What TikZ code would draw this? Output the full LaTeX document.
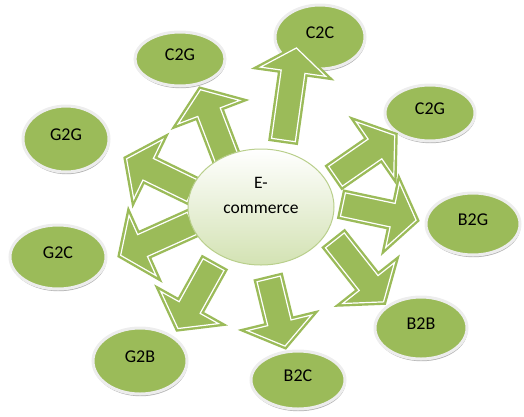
\documentclass[tikz,border=0pt]{standalone}
\usepackage{fontspec}
\setmainfont{Carlito}
\usetikzlibrary{shapes.geometric,shadows,calc}

\definecolor{leaf}{HTML}{9BBB59}
\definecolor{rim}{HTML}{EDEDED}
\definecolor{hubbot}{HTML}{D3E2B3}
\definecolor{hubline}{HTML}{B9CF8C}

\tikzset{
  model/.style={ellipse, fill=leaf, draw=rim, line width=3pt, inner sep=0pt,
    font=\fontsize{18}{20}\selectfont, text depth=8pt,
    drop shadow={shadow xshift=0.6pt, shadow yshift=-2.2pt, opacity=0.3, fill=black}},
  hub/.style={ellipse, top color=white, bottom color=hubbot, draw=hubline,
    line width=1pt, inner sep=0pt, minimum width=146pt, minimum height=116pt},
  flow/.style={fill=leaf, draw=leaf, double=white, line width=2.4pt,
    double distance=1.2pt}
}

\begin{document}
\begin{tikzpicture}[x=1pt, y=-1pt]
  \useasboundingbox (0,0) rectangle (524,416);

  % trading models round the hub
  \node[model, minimum width=90pt, minimum height=54pt] (c2gl) at (180,59) {C2G};
  \node[model, minimum width=90pt, minimum height=64pt] (c2c) at (320,37) {C2C};
  \node[model, minimum width=90pt, minimum height=56pt] (c2gr) at (430,113) {C2G};
  \node[model, minimum width=86pt, minimum height=66pt] (g2g) at (66,139) {G2G};
  \node[model, minimum width=96pt, minimum height=64pt] (g2c) at (58,257) {G2C};
  \node[model, minimum width=94pt, minimum height=62pt] (b2g) at (473,224) {B2G};
  \node[model, minimum width=92pt, minimum height=62pt] (b2b) at (421,328) {B2B};
  \node[model, minimum width=94pt, minimum height=66pt] (g2b) at (140,361) {G2B};
  \node[model, minimum width=94pt, minimum height=58pt] (b2c) at (298,380) {B2C};

  % block arrows: shaft 24pt, head 66pt wide and 24pt long
  \foreach \i/\sx/\sy/\tx/\ty in {1/228/162/199/86, 2/283/143/297/44,
      3/333/178/398/133, 4/340/204/420/221, 5/333/238/386/305,
      6/268/276/286/350, 7/215/262/176/332, 8/195/222/117/257,
      9/195/192/123/157} {
    \coordinate (s\i) at ($(\sx,\sy)!3pt!(\tx,\ty)$);
    \coordinate (t\i) at ($(\tx,\ty)!4pt!(\sx,\sy)$);
    \draw[flow] ($(s\i)!12pt!90:(t\i)$)
      -- ($(t\i)!24pt!(s\i)!12pt!-90:(s\i)$)
      -- ($(t\i)!24pt!(s\i)!33pt!-90:(s\i)$)
      -- (t\i)
      -- ($(t\i)!24pt!(s\i)!33pt!90:(s\i)$)
      -- ($(t\i)!24pt!(s\i)!12pt!90:(s\i)$)
      -- ($(s\i)!12pt!-90:(t\i)$) -- cycle;
  }

  \node[hub, label={[font=\fontsize{17.5}{25}\selectfont, align=center,
    yshift=12pt]center:{E-\\commerce}}] (ec) at (261,207) {};
\end{tikzpicture}
\end{document}
